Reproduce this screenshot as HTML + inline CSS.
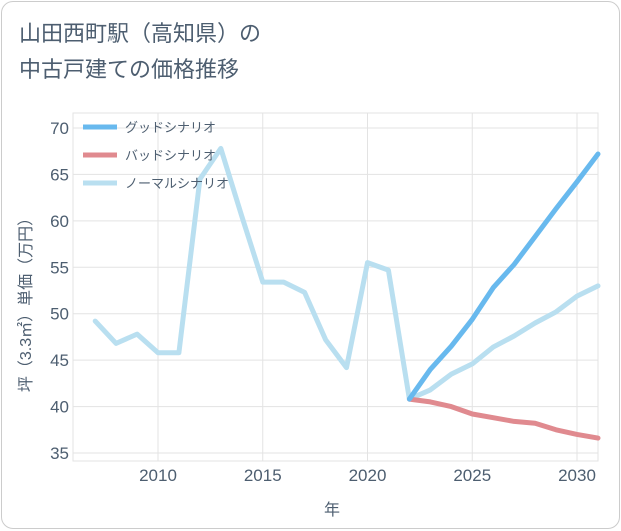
<!DOCTYPE html>
<html><head><meta charset="utf-8"><style>
body{margin:0;background:#fff;}
#card{position:absolute;left:1px;top:1px;width:617px;height:526px;border:1px solid #ccc;border-radius:12px;background:#fff;}
svg text{font-family:"Liberation Sans","Noto Sans CJK JP",sans-serif;}
</style></head><body>
<div id="card">
<svg width="621" height="530" style="position:absolute;left:-1px;top:-1px" id="chart">
<text x="18" y="40" font-size="22" fill="#4d5e70">山田西町駅（高知県）の</text>
<text x="18" y="76" font-size="22" fill="#4d5e70">中古戸建ての価格推移</text>
<g id="grid"></g><g id="axes"></g><g id="series"></g><g id="legend"></g>
<text x="331" y="514" font-size="16" fill="#4d5e70" text-anchor="middle">年</text>
<text transform="translate(30,300) rotate(-90)" font-size="16" fill="#4d5e70" text-anchor="middle">坪（3.3㎡）単価（万円）</text>
</svg></div>
<script>
const years=[2007,2008,2009,2010,2011,2012,2013,2014,2015,2016,2017,2018,2019,2020,2021,2022,2023,2024,2025,2026,2027,2028,2029,2030,2031];
const normal=[49.2,46.8,47.8,45.8,45.8,64.5,67.8,60.5,53.4,53.4,52.3,47.2,44.2,55.5,54.7,40.8,41.8,43.5,44.6,46.4,47.6,49.0,50.2,51.9,53.0];
const fYears=[2022,2023,2024,2025,2026,2027,2028,2029,2030,2031];
const good=[40.8,44.0,46.5,49.4,52.8,55.3,58.3,61.3,64.2,67.2];
const bad=[40.8,40.5,40.0,39.2,38.8,38.4,38.2,37.5,37.0,36.6];
const yTicks=[35,40,45,50,55,60,65,70];
const xTicks=[2010,2015,2020,2025,2030];
const L=72,R=597,T=112,B=460;
const xs=y=>157+(y-2010)*20.95;
const ys=v=>452-(v-35)*9.286;
const NS='http://www.w3.org/2000/svg';
function mk(p,tag,a){const e=document.createElementNS(NS,tag);for(const k in a)e.setAttribute(k,a[k]);document.getElementById(p).appendChild(e);return e;}
let r=mk('grid','rect',{x:L,y:T,width:R-L,height:B-T,fill:'none',stroke:'#e3e3e3'});


yTicks.forEach(v=>{let l=mk('grid','line',{x1:L,x2:R,y1:ys(v),y2:ys(v),stroke:'#e3e3e3'});


let t=mk('axes','text',{x:L-4,y:ys(v)+6,'font-size':17,fill:'#4d5e70','text-anchor':'end'});t.textContent=v;

});
xTicks.forEach(v=>{let l=mk('grid','line',{x1:xs(v),x2:xs(v),y1:T,y2:B,stroke:'#e3e3e3'});


let t=mk('axes','text',{x:xs(v),y:B+20,'font-size':17,fill:'#4d5e70','text-anchor':'middle'});t.textContent=v;

});
function line(xv,yv,c,name){const d=xv.map((x,i)=>(i?'L':'M')+xs(x).toFixed(1)+','+ys(yv[i]).toFixed(1)).join('');
let p=mk('series','path',{d:d,fill:'none',stroke:c,'stroke-width':5,'stroke-linejoin':'round','stroke-linecap':'round'});

}
line(years,normal,'#b9dff0','normal-scenario-line');
line(fYears,bad,'#e08a8f','bad-scenario-line');
line(fYears,good,'#68b9ee','good-scenario-line');
const leg=[['グッドシナリオ','#68b9ee'],['バッドシナリオ','#e08a8f'],['ノーマルシナリオ','#b9dff0']];
leg.forEach((g,i)=>{const y=126+i*28;
let l=mk('legend','line',{x1:82,x2:116,y1:y,y2:y,stroke:g[1],'stroke-width':5});


let t=mk('legend','text',{x:124,y:y+5,'font-size':13,fill:'#4d5e70'});t.textContent=g[0];

});
</script>
</body></html>
